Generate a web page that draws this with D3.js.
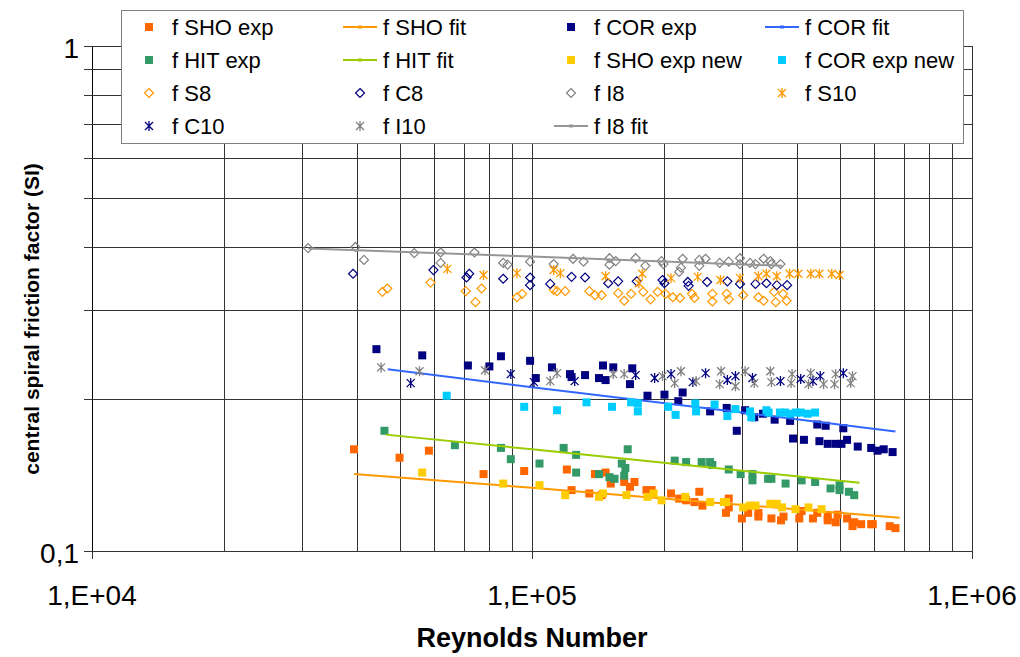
<!DOCTYPE html>
<html><head><meta charset="utf-8">
<script src="https://cdn.jsdelivr.net/npm/d3@7"></script>
<style>body{margin:0;background:#fff} text{font-family:"Liberation Sans",Arial,sans-serif;fill:#000}</style>
</head><body><svg id="c" width="1020" height="657"></svg>
<script>
// ---- data: [Reynolds number, friction factor] ----
const shoExp = [[3.94e4,0.159],[5e4,0.153],[5.83e4,0.158],[7.76e4,0.142],[9.6e4,0.144],[1.2e5,0.145],[1.23e5,0.132],[1.35e5,0.130],[1.39e5,0.142],[1.47e5,0.143],[1.44e5,0.129],[1.51e5,0.136],[1.62e5,0.137],[1.67e5,0.134],[1.71e5,0.137],[1.82e5,0.132],[1.87e5,0.132],[2.07e5,0.130],[2.16e5,0.127],[2.24e5,0.126],[2.34e5,0.125],[2.4e5,0.131],[2.44e5,0.123],[2.8e5,0.127],[2.8e5,0.122],[2.76e5,0.119],[3e5,0.116],[3.1e5,0.119],[3.27e5,0.119],[3.27e5,0.117],[3.5e5,0.116],[3.73e5,0.117],[3.68e5,0.115],[4.05e5,0.116],[4.1e5,0.12],[4.35e5,0.116],[4.45e5,0.119],[4.7e5,0.115],[4.7e5,0.117],[4.9e5,0.114],[4.95e5,0.118],[5.2e5,0.116],[5.35e5,0.112],[5.4e5,0.114],[5.6e5,0.113],[5.9e5,0.113],[5.95e5,0.113],[6.5e5,0.112],[6.7e5,0.111]];
const shoFit = [[3.94e4,0.142],[1e5,0.1334],[6.85e5,0.1164]];
const corExp = [[4.43e4,0.251],[5.63e4,0.244],[7.15e4,0.233],[8.0e4,0.232],[8.5e4,0.243],[9.9e4,0.238],[1.11e5,0.231],[1.02e5,0.22],[1.22e5,0.224],[1.23e5,0.221],[1.32e5,0.223],[1.42e5,0.22],[1.45e5,0.233],[1.47e5,0.218],[1.53e5,0.231],[1.69e5,0.23],[1.67e5,0.214],[1.83e5,0.203],[2.0e5,0.204],[2.15e5,0.198],[2.2e5,0.206],[2.54e5,0.189],[2.77e5,0.192],[2.92e5,0.173],[3.05e5,0.19],[3.2e5,0.184],[3.35e5,0.187],[3.56e5,0.182],[3.86e5,0.181],[3.92e5,0.167],[4.15e5,0.166],[4.45e5,0.178],[4.5e5,0.165],[4.65e5,0.177],[4.7e5,0.163],[4.9e5,0.163],[5.05e5,0.163],[5.1e5,0.175],[5.2e5,0.166],[5.5e5,0.161],[5.9e5,0.16],[6.1e5,0.158],[6.3e5,0.159],[6.6e5,0.157]];
const corFit = [[4.7e4,0.229],[1e5,0.211],[3e5,0.188],[6.7e5,0.1725]];
const hitExp = [[4.62e4,0.173],[6.68e4,0.162],[8.5e4,0.16],[8.95e4,0.152],[1.04e5,0.149],[1.18e5,0.16],[1.26e5,0.155],[1.26e5,0.143],[1.42e5,0.142],[1.5e5,0.14],[1.54e5,0.139],[1.6e5,0.149],[1.63e5,0.146],[1.65e5,0.159],[1.62e5,0.141],[2.11e5,0.151],[2.24e5,0.15],[2.43e5,0.15],[2.54e5,0.15],[2.57e5,0.148],[2.8e5,0.145],[2.98e5,0.142],[3.17e5,0.142],[3.17e5,0.138],[3.44e5,0.139],[3.5e5,0.139],[3.77e5,0.136],[4.1e5,0.138],[4.4e5,0.137],[4.77e5,0.133],[5.0e5,0.135],[5.0e5,0.132],[5.25e5,0.131],[5.4e5,0.129]];
const hitFit = [[4.65e4,0.170],[1e5,0.159],[5.55e5,0.1365]];
const shoExpNew = [[5.63e4,0.143],[8.6e4,0.136],[1.04e5,0.135],[1.19e5,0.129],[1.42e5,0.128],[1.45e5,0.13],[1.64e5,0.129],[1.83e5,0.128],[1.89e5,0.13],[1.97e5,0.126],[2.23e5,0.128],[2.54e5,0.125],[2.73e5,0.125],[2.76e5,0.125],[3.02e5,0.122],[3.13e5,0.123],[3.22e5,0.123],[3.48e5,0.124],[3.6e5,0.124],[3.7e5,0.122],[3.97e5,0.121],[4.25e5,0.122],[4.55e5,0.121]];
const corExpNew = [[6.4e4,0.203],[9.6e4,0.193],[1.14e5,0.19],[1.33e5,0.197],[1.52e5,0.193],[1.68e5,0.197],[1.74e5,0.196],[1.74e5,0.189],[2.04e5,0.193],[2.12e5,0.186],[2.35e5,0.196],[2.36e5,0.189],[2.6e5,0.195],[2.78e5,0.185],[2.9e5,0.191],[3.13e5,0.189],[3.15e5,0.184],[3.41e5,0.19],[3.45e5,0.188],[3.66e5,0.188],[3.76e5,0.188],[3.86e5,0.187],[3.98e5,0.188],[4.08e5,0.188],[4.23e5,0.187],[4.4e5,0.188]];
const s8 = [[4.57e4,0.326],[4.69e4,0.331],[5.88e4,0.34],[7.07e4,0.327],[7.68e4,0.331],[7.44e4,0.311],[9.24e4,0.318],[9.5e4,0.323],[1.12e5,0.329],[1.14e5,0.327],[1.19e5,0.327],[1.35e5,0.327],[1.39e5,0.321],[1.44e5,0.321],[1.57e5,0.324],[1.62e5,0.313],[1.68e5,0.323],[1.79e5,0.326],[1.86e5,0.315],[1.93e5,0.326],[2.01e5,0.323],[2.09e5,0.318],[2.17e5,0.317],[2.31e5,0.323],[2.34e5,0.317],[2.57e5,0.323],[2.57e5,0.312],[2.77e5,0.323],[2.8e5,0.315],[3.02e5,0.321],[3.27e5,0.318],[3.36e5,0.313],[3.55e5,0.326],[3.58e5,0.311],[3.72e5,0.323],[3.79e5,0.313]];
const c8 = [[3.92e4,0.354],[5.97e4,0.36],[7.1e4,0.348],[7.2e4,0.354],[8.6e4,0.346],[9.9e4,0.348],[9.9e4,0.336],[1.1e5,0.338],[1.23e5,0.349],[1.32e5,0.348],[1.49e5,0.339],[1.57e5,0.342],[1.73e5,0.342],[1.98e5,0.344],[2e5,0.339],[2.26e5,0.341],[2.27e5,0.335],[2.5e5,0.341],[2.78e5,0.342],[2.97e5,0.338],[3.22e5,0.338],[3.41e5,0.339],[3.6e5,0.336],[3.8e5,0.336]];
const i8 = [[3.1e4,0.398],[3.97e4,0.40],[4.15e4,0.377],[5.4e4,0.389],[6.2e4,0.39],[6.2e4,0.372],[7.4e4,0.39],[8.6e4,0.372],[8.8e4,0.369],[9.9e4,0.374],[1.12e5,0.37],[1.24e5,0.379],[1.31e5,0.374],[1.5e5,0.38],[1.5e5,0.369],[1.55e5,0.375],[1.72e5,0.38],[1.81e5,0.367],[1.97e5,0.375],[1.99e5,0.37],[2.2e5,0.379],[2.18e5,0.364],[2.16e5,0.357],[2.4e5,0.377],[2.4e5,0.367],[2.48e5,0.379],[2.67e5,0.372],[2.8e5,0.374],[2.97e5,0.38],[2.97e5,0.37],[3.13e5,0.372],[3.22e5,0.37],[3.36e5,0.379],[3.48e5,0.375],[3.5e5,0.37],[3.67e5,0.37]];
const s10 = [[6.42e4,0.362],[7.76e4,0.352],[9.24e4,0.355],[1.12e5,0.36],[1.16e5,0.355],[1.47e5,0.35],[1.78e5,0.354],[1.75e5,0.339],[2.07e5,0.347],[2.38e5,0.349],[2.68e5,0.344],[2.97e5,0.347],[3.27e5,0.35],[3.41e5,0.354],[3.6e5,0.35],[3.85e5,0.354],[4.03e5,0.354],[4.3e5,0.354],[4.5e5,0.354],[4.8e5,0.354],[5.0e5,0.352]];
const c10 = [[5.3e4,0.215],[8.95e4,0.224],[1.01e5,0.216],[1.25e5,0.217],[1.72e5,0.223],[1.9e5,0.22],[2.07e5,0.224],[2.32e5,0.216],[2.48e5,0.225],[2.78e5,0.218],[2.9e5,0.222],[3.17e5,0.22],[3.67e5,0.217],[4.08e5,0.219],[4.35e5,0.217],[4.52e5,0.222],[5.1e5,0.225]];
const i10 = [[4.54e4,0.231],[5.55e4,0.227],[7.82e4,0.228],[1.1e5,0.217],[1.14e5,0.225],[1.53e5,0.224],[1.62e5,0.224],[1.98e5,0.222],[2.11e5,0.215],[2.18e5,0.227],[2.36e5,0.217],[2.69e5,0.227],[2.67e5,0.214],[2.9e5,0.212],[3.05e5,0.227],[3.2e5,0.215],[3.48e5,0.227],[3.5e5,0.216],[3.9e5,0.224],[3.88e5,0.215],[4.3e5,0.225],[4.25e5,0.214],[4.6e5,0.214],[4.9e5,0.224],[4.87e5,0.214],[5.35e5,0.222],[5.3e5,0.215]];
const i8Fit = [[3.1e4,0.397],[1e5,0.383],[3.7e5,0.367]];

const xTicks = [1e4,2e4,3e4,4e4,5e4,6e4,7e4,8e4,9e4,1e5,2e5,3e5,4e5,5e5,6e5,7e5,8e5,9e5,1e6];
const xMajor = [1e4,1e5,1e6];
const xLabels = ["1,E+04","1,E+05","1,E+06"];
const yTicks = [0.1,0.2,0.3,0.4,0.5,0.6,0.7,0.8,0.9,1];
const yMajor = [0.1,1];
const yLabels = ["0,1","1"];
const xTitle = "Reynolds Number";
const yTitle = "central spiral friction factor (SI)";

const series = [
  {name:"f SHO exp", data:shoExp, type:"square", color:"#FF6600"},
  {name:"f SHO fit", data:shoFit, type:"line", color:"#FF9900"},
  {name:"f COR exp", data:corExp, type:"square", color:"#000080"},
  {name:"f COR fit", data:corFit, type:"line", color:"#3366FF"},
  {name:"f HIT exp", data:hitExp, type:"square", color:"#339966"},
  {name:"f HIT fit", data:hitFit, type:"line", color:"#99CC00"},
  {name:"f SHO exp new", data:shoExpNew, type:"square", color:"#FFCC00"},
  {name:"f COR exp new", data:corExpNew, type:"square", color:"#00CCFF"},
  {name:"f S8", data:s8, type:"diamond", color:"#FF9900"},
  {name:"f C8", data:c8, type:"diamond", color:"#000080"},
  {name:"f I8", data:i8, type:"diamond", color:"#808080"},
  {name:"f S10", data:s10, type:"star", color:"#FF9900"},
  {name:"f C10", data:c10, type:"star", color:"#000080"},
  {name:"f I10", data:i10, type:"star", color:"#808080"},
  {name:"f I8 fit", data:i8Fit, type:"line", color:"#969696"}
];

const svg = d3.select('#c');
const x = d3.scaleLog().domain([1e4,1e6]).range([92,972]);
const y = d3.scaleLog().domain([0.1,1]).range([551,46]);
const L = 92, R = 972, T = 46, B = 551;

// grid + axes
const xAxis = d3.axisBottom(x).tickValues(xTicks).tickSizeInner(-(B-T)).tickSizeOuter(0).tickFormat("");
const gx = svg.append('g').attr('transform',`translate(0,${B})`).call(xAxis);
gx.selectAll('line').attr('stroke','#333').attr('shape-rendering','crispEdges')
  .attr('y1', d => xMajor.includes(d) ? 8 : 0);
gx.select('.domain').attr('stroke','#000').attr('shape-rendering','crispEdges');

const yAxis = d3.axisLeft(y).tickValues(yTicks).tickSizeInner(-(R-L)).tickSizeOuter(0).tickFormat("");
const gy = svg.append('g').attr('transform',`translate(${L},0)`).call(yAxis);
gy.selectAll('line').attr('stroke','#333').attr('shape-rendering','crispEdges').attr('x1',-8);
gy.select('.domain').attr('stroke','#000').attr('shape-rendering','crispEdges');

xMajor.forEach((v,i)=>{
  svg.append('text').attr('x',x(v)).attr('y',B+54).attr('text-anchor','middle')
    .attr('font-size',28).text(xLabels[i]);
});
yMajor.forEach((v,i)=>{
  svg.append('text').attr('x',L-13).attr('y',y(v)+12).attr('text-anchor','end')
    .attr('font-size',28).text(yLabels[i]);
});
svg.append('text').attr('x',532).attr('y',647).attr('text-anchor','middle')
  .attr('font-size',27).attr('font-weight','bold').text(xTitle);
svg.append('text').attr('transform','translate(39,319) rotate(-90)').attr('text-anchor','middle')
  .attr('font-size',21).attr('font-weight','bold').text(yTitle);

// markers
function drawMarker(g, type, color, cx, cy){
  if(type==='square'){
    g.append('rect').attr('x',cx-4).attr('y',cy-4).attr('width',8).attr('height',8).attr('fill',color);
  } else if(type==='diamond'){
    const r=4.5;
    g.append('path').attr('d',`M${cx},${cy-r}L${cx+r},${cy}L${cx},${cy+r}L${cx-r},${cy}Z`)
      .attr('fill','none').attr('stroke',color).attr('stroke-width',1.2);
  } else if(type==='star'){
    const r=5, d=4;
    g.append('path').attr('d',`M${cx},${cy-r}L${cx},${cy+r}M${cx-d},${cy-d}L${cx+d},${cy+d}M${cx-d},${cy+d}L${cx+d},${cy-d}`)
      .attr('fill','none').attr('stroke',color).attr('stroke-width',1.3);
  }
}
const line = d3.line().x(d=>x(d[0])).y(d=>y(d[1]));
const plot = svg.append('g');
series.forEach(s=>{
  const g = plot.append('g');
  if(s.type==='line'){
    g.append('path').attr('d',line(s.data)).attr('fill','none').attr('stroke',s.color).attr('stroke-width',2);
  } else {
    s.data.forEach(d=>drawMarker(g,s.type,s.color,x(d[0]),y(d[1])));
  }
});

// legend
const lg = svg.append('g');
lg.append('rect').attr('x',121.5).attr('y',10.5).attr('width',842).attr('height',133)
  .attr('fill','#fff').attr('stroke','#808080').attr('stroke-width',1);
const colX = [149,360,571,782], rowY = [27,60,93,126];
series.forEach((s,i)=>{
  const cx = colX[i%4], cy = rowY[Math.floor(i/4)];
  if(s.type==='line'){
    lg.append('line').attr('x1',cx-17).attr('x2',cx+17).attr('y1',cy).attr('y2',cy)
      .attr('stroke',s.color).attr('stroke-width',2);
    lg.append('rect').attr('x',cx-2).attr('y',cy-1.5).attr('width',4).attr('height',3).attr('fill',s.color);
  } else drawMarker(lg,s.type,s.color,cx,cy);
  lg.append('text').attr('x',cx+23).attr('y',cy+8).attr('font-size',22).text(s.name);
});
</script></body></html>
